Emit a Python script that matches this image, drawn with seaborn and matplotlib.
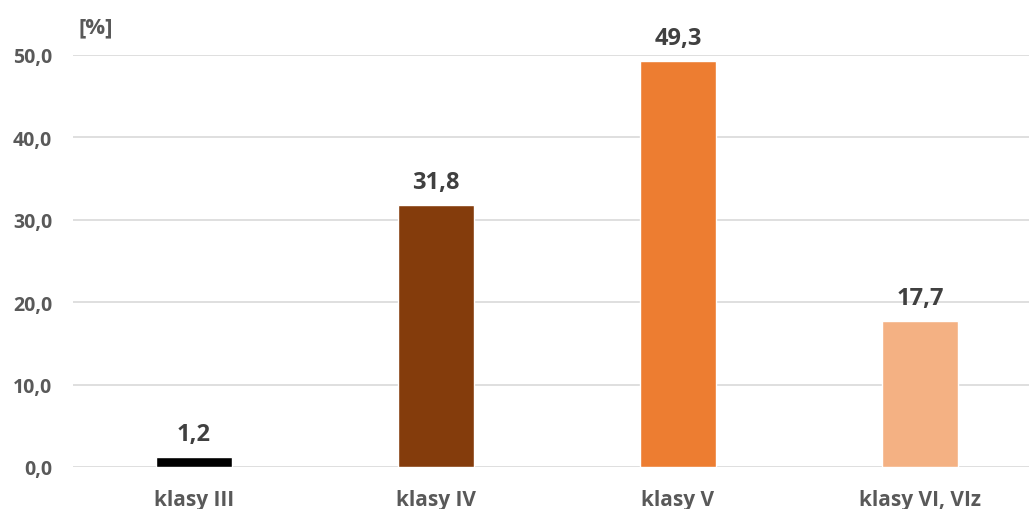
import matplotlib
matplotlib.use("Agg")
import matplotlib.pyplot as plt
import seaborn as sns
import pandas as pd

categories = ["klasy III", "klasy IV", "klasy V", "klasy VI, VIz"]
values = [1.2, 31.8, 49.3, 17.7]
bar_colors = ["#000000", "#843C0C", "#ED7D31", "#F4B183"]
y_ticks = [0, 10, 20, 30, 40, 50]

sns.set_theme(style="white")
plt.rcParams["font.family"] = ["Open Sans", "DejaVu Sans"]

df = pd.DataFrame({"klasa": categories, "udzial": values})

W, H = 1029, 510
fig = plt.figure(figsize=(W / 100, H / 100), dpi=100)
ax = fig.add_axes([73 / W, (H - 468) / H, 968 / W, 412 / H])

sns.barplot(data=df, x="klasa", y="udzial", hue="klasa", palette=bar_colors,
            legend=False, width=0.31, ax=ax, saturation=1)

ax.set_ylim(0, 50)
ax.set_xlim(-0.5, 3.5)
ax.set_yticks(y_ticks)
ax.set_yticklabels([f"{t:.1f}".replace(".", ",") for t in y_ticks])
ax.yaxis.grid(True, color="#D9D9D9", linewidth=1.2)
ax.set_axisbelow(True)
for s in ax.spines.values():
    s.set_visible(False)
ax.tick_params(axis="both", length=0, labelcolor="#595959")
ax.tick_params(axis="y", pad=15, labelsize=14)
ax.tick_params(axis="x", pad=16, labelsize=15)
for lbl in ax.get_xticklabels() + ax.get_yticklabels():
    lbl.set_fontweight("bold")
ax.set_xlabel("")
ax.set_ylabel("")

for cont in ax.containers:
    ax.bar_label(cont, labels=[f"{v:.1f}".replace(".", ",") for v in cont.datavalues],
                 padding=8, fontsize=17, fontweight="bold", color="#404040", clip_on=False)

fig.text(79 / W, 1 - 28 / H, "[%]", fontsize=16, fontweight="bold", color="#595959",
         ha="left", va="center")

fig.savefig("out.png", dpi=100)
